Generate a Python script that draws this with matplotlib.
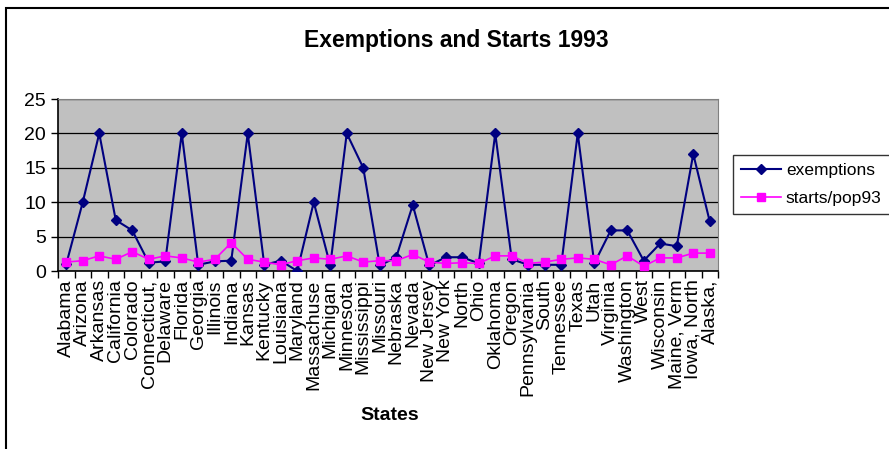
import numpy as np
import matplotlib.pyplot as plt
from matplotlib.patches import Rectangle

plt.rcParams['font.family'] = ['Liberation Sans', 'DejaVu Sans']

states = ['Alabama', 'Arizona', 'Arkansas', 'California', 'Colorado',
          'Connecticut,', 'Delaware', 'Florida', 'Georgia', 'Illinois',
          'Indiana', 'Kansas', 'Kentucky', 'Louisiana', 'Maryland',
          'Massachuse', 'Michigan', 'Minnesota', 'Mississippi', 'Missouri',
          'Nebraska', 'Nevada', 'New Jersey', 'New York', 'North', 'Ohio',
          'Oklahoma', 'Oregon', 'Pennsylvania', 'South', 'Tennessee',
          'Texas', 'Utah', 'Virginia', 'Washington', 'West', 'Wisconsin',
          'Maine, Verm', 'Iowa, North', 'Alaska,']

exemptions = [1.0, 10, 20, 7.4, 5.9, 1.2, 1.4, 20, 0.9, 1.4,
              1.5, 20, 0.9, 1.5, 0, 10, 0.8, 20, 15, 0.8,
              2.0, 9.6, 0.8, 2.0, 2.0, 1.1, 20, 1.7, 0.9, 0.9,
              0.9, 20, 1.1, 5.9, 5.9, 1.5, 4.0, 3.6, 17, 7.2]

starts_pop93 = [1.3, 1.5, 2.2, 1.7, 2.8, 1.7, 2.2, 1.9, 1.3, 1.7,
                4.1, 1.7, 1.3, 0.9, 1.5, 1.9, 1.7, 2.2, 1.3, 1.5,
                1.5, 2.4, 1.3, 1.1, 1.2, 1.1, 2.2, 2.2, 1.1, 1.3,
                1.7, 1.9, 1.7, 0.9, 2.2, 0.7, 1.9, 1.9, 2.6, 2.6]

x = np.arange(len(states))

fig = plt.figure(figsize=(8.89, 4.49), dpi=100)
ax = fig.add_axes([58 / 889, 1 - 271 / 449, 660 / 889, 172 / 449])
ax.set_facecolor('#C0C0C0')

ax.plot(x, exemptions, color='#000080', lw=1.5, marker='D', ms=4.8,
        label='exemptions', zorder=3)
ax.plot(x, starts_pop93, color='#FF00FF', lw=1.2, marker='s', ms=5.8,
        label='starts/pop93', zorder=4)

ax.set_xlim(-0.5, len(states) - 0.5)
ax.set_ylim(0, 25)
ax.set_yticks(range(0, 26, 5))
ax.yaxis.grid(True, color='black', lw=0.9)
ax.set_axisbelow(True)

ax.set_xticks(x)
ax.set_xticklabels(states, rotation=90, fontsize=14)
ax.set_xticks(np.arange(-0.5, len(states)), minor=True)
ax.tick_params(axis='x', which='major', length=0, pad=6)
ax.tick_params(axis='x', which='minor', length=5, direction='out', width=1)
ax.tick_params(axis='y', labelsize=14, length=5, direction='out', width=1)

for side in ('top', 'right'):
    ax.spines[side].set_color('#808080')
for side in ('left', 'bottom'):
    ax.spines[side].set_color('black')
    ax.spines[side].set_linewidth(1.2)

leg = fig.legend(loc='upper left', bbox_to_anchor=(733 / 889, 1 - 155 / 449),
                 fontsize=12.5, frameon=True, fancybox=False, borderpad=0.45,
                 handlelength=2.3, handletextpad=0.3, labelspacing=0.75,
                 borderaxespad=0)
leg.get_frame().set_edgecolor('black')
leg.get_frame().set_linewidth(1)

fig.text(456 / 889, 1 - 40 / 449, 'Exemptions and Starts 1993',
         ha='center', va='center', fontsize=16.5, fontweight='bold')
fig.text(390 / 889, 1 - 416 / 449, 'States', ha='center', va='center',
         fontsize=14, fontweight='bold')

# chart area frame, running off the right and bottom edges
fig.patches.append(Rectangle((6 / 889, -0.1), 1.0, 1 - 8 / 449 + 0.1,
                             transform=fig.transFigure, fill=False,
                             edgecolor='black', lw=1.5))

fig.savefig('out.png', dpi=100)
